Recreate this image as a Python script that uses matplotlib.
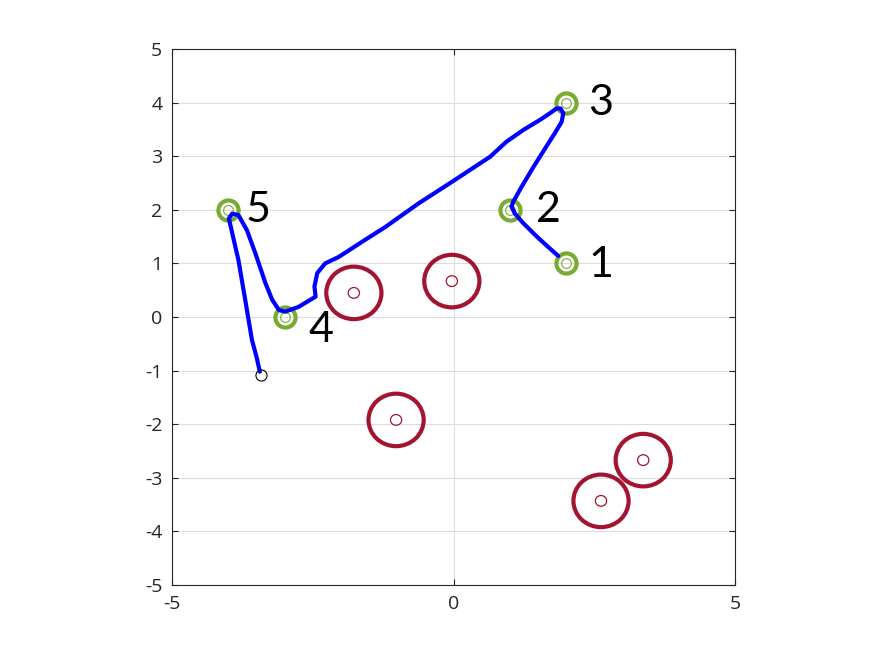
import matplotlib.pyplot as plt
from matplotlib.patches import Circle

plt.rcParams['font.family'] = ['Open Sans', 'DejaVu Sans']
plt.rcParams['axes.unicode_minus'] = False

# waypoints (green) and their labels
wp_x = [2, 1, 2, -3, -4]
wp_y = [1, 2, 4, 0, 2]
wp_labels = ['1', '2', '3', '4', '5']
lab_x = [2.62, 1.68, 2.62, -2.35, -3.47]
lab_y = [0.97, 2.0, 4.0, -0.24, 2.0]

# obstacles (red)
obs_x = [-1.77, -0.03, -1.02, 2.62, 3.37]
obs_y = [0.45, 0.67, -1.92, -3.43, -2.67]
obs_r = 0.49

# robot trajectory (blue)
path_x = [1.86, 1.71, 1.48, 1.24, 1.09, 1.03, 1.06, 1.21, 1.42, 1.63, 1.80, 1.92,
          1.95, 1.90, 1.83, 1.71, 1.54, 1.24, 0.94, 0.65, -0.03, -0.62, -1.21,
          -1.57, -2.04, -2.28, -2.42, -2.47, -2.45, -2.75, -2.99, -3.10, -3.22,
          -3.34, -3.52, -3.67, -3.82, -3.93, -3.99, -3.93, -3.82, -3.70, -3.58,
          -3.50, -3.44]
path_y = [1.14, 1.28, 1.50, 1.75, 1.93, 2.06, 2.15, 2.43, 2.80, 3.15, 3.43, 3.64,
          3.80, 3.89, 3.89, 3.80, 3.68, 3.49, 3.27, 2.99, 2.52, 2.12, 1.68,
          1.44, 1.12, 1.00, 0.82, 0.57, 0.38, 0.19, 0.10, 0.13, 0.32,
          0.63, 1.19, 1.62, 1.90, 1.93, 1.84, 1.56, 1.06, 0.32, -0.43,
          -0.74, -1.02]
end_x, end_y = -3.42, -1.08

green = '#77AC30'
red = '#A2142F'

fig = plt.figure(figsize=(8.75, 6.56), dpi=100)
ax = fig.add_axes([0.1966, 0.1082, 0.6434, 0.8171])

ax.set_xlim(-5, 5)
ax.set_ylim(-5, 5)
ax.set_xticks([-5, 0, 5])
ax.set_yticks(range(-5, 6))
ax.grid(True, color='#dcdcdc', linewidth=0.8)
ax.set_axisbelow(True)
ax.tick_params(direction='in', length=4.5, top=True, right=True,
               labelsize=14, colors='#262626', pad=7)
for s in ax.spines.values():
    s.set_color('#262626')
    s.set_linewidth(0.8)

for ox, oy in zip(obs_x, obs_y):
    ax.add_patch(Circle((ox, oy), obs_r, fill=False, ec=red, lw=3, zorder=3))
    ax.add_patch(Circle((ox, oy), 0.1, fill=False, ec=red, lw=0.9, zorder=3))

ax.plot(wp_x, wp_y, 'o', ms=14.5, mfc='none', mec=green, mew=3, zorder=3)
ax.plot(wp_x, wp_y, 'o', ms=7, mfc='none', mec=green, mew=0.8, zorder=3)

ax.plot(path_x, path_y, color='blue', lw=3, solid_capstyle='round',
        solid_joinstyle='round', zorder=4)
ax.plot(end_x, end_y, 'o', ms=8, mfc='none', mec='black', mew=0.8, zorder=5)

for t, lx, ly in zip(wp_labels, lab_x, lab_y):
    ax.text(lx, ly, t, fontsize=31, ha='center', va='center', color='black',
            family=['Lato', 'DejaVu Sans'])

fig.savefig('out.png', dpi=100)
